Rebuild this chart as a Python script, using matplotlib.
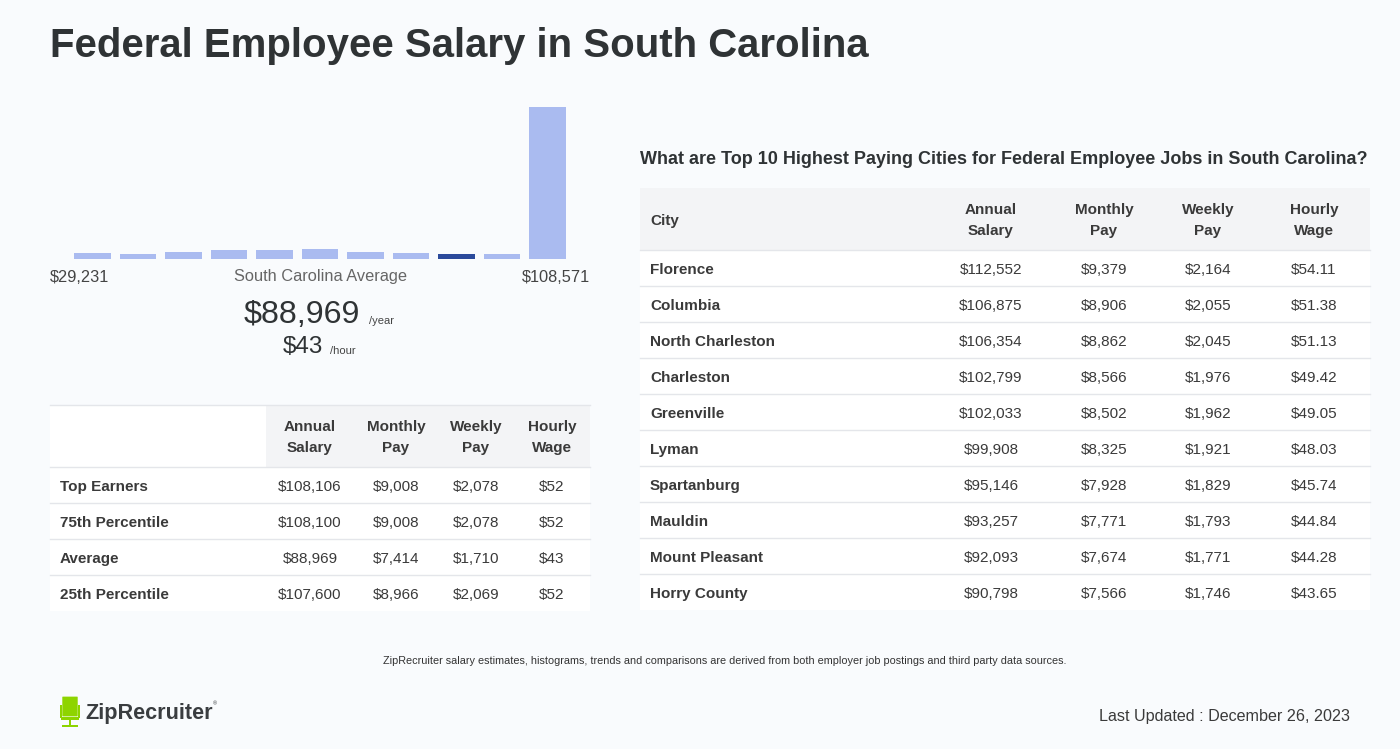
import matplotlib
matplotlib.use("Agg")
import matplotlib.pyplot as plt
from matplotlib.patches import Rectangle, FancyBboxPatch

plt.rcParams['font.family'] = ['Liberation Sans', 'DejaVu Sans']

W, H = 1400, 749

# histogram data (relative bar heights)
bin_heights = [17, 14, 20, 26, 26, 29, 20, 17, 14, 14, 455]
highlight_bin = 8
range_low = "$29,231"
range_high = "$108,571"
avg_year = "$88,969"
avg_hour = "$43"

# percentile table
pct_labels = ["Top Earners", "75th Percentile", "Average", "25th Percentile"]
pct_annual = ["$108,106", "$108,100", "$88,969", "$107,600"]
pct_monthly = ["$9,008", "$9,008", "$7,414", "$8,966"]
pct_weekly = ["$2,078", "$2,078", "$1,710", "$2,069"]
pct_hourly = ["$52", "$52", "$43", "$52"]

# city table
cities = ["Florence", "Columbia", "North Charleston", "Charleston", "Greenville",
          "Lyman", "Spartanburg", "Mauldin", "Mount Pleasant", "Horry County"]
city_annual = ["$112,552", "$106,875", "$106,354", "$102,799", "$102,033",
               "$99,908", "$95,146", "$93,257", "$92,093", "$90,798"]
city_monthly = ["$9,379", "$8,906", "$8,862", "$8,566", "$8,502",
                "$8,325", "$7,928", "$7,771", "$7,674", "$7,566"]
city_weekly = ["$2,164", "$2,055", "$2,045", "$1,976", "$1,962",
               "$1,921", "$1,829", "$1,793", "$1,771", "$1,746"]
city_hourly = ["$54.11", "$51.38", "$51.13", "$49.42", "$49.05",
               "$48.03", "$45.74", "$44.84", "$44.28", "$43.65"]

BG = "#f9fbfd"
HEAD_BG = "#f3f4f6"
DARK = "#2f3335"
TXT = "#3a3a3a"
LINE = "#e4e6ea"

fig = plt.figure(figsize=(14, 7.49), dpi=100)
fig.patch.set_facecolor(BG)


def fx(x):
    return x / W


def fy(y):
    return 1 - y / H


def txt(x, y, s, **kw):
    fig.text(fx(x), fy(y), s, **kw)


def rect(x0, y0, x1, y1, color):
    fig.patches.append(Rectangle((fx(x0), fy(y1)), fx(x1) - fx(x0), fy(y0) - fy(y1),
                                 transform=fig.transFigure, facecolor=color,
                                 edgecolor="none", zorder=0))


def hline(x0, x1, y):
    fig.add_artist(plt.Line2D([fx(x0), fx(x1)], [fy(y), fy(y)], color=LINE, lw=1))


# title
txt(50, 46, "Federal Employee Salary in South Carolina", fontsize=28.9, fontweight="bold",
    color=DARK, va="center", ha="left")

# histogram
ax = fig.add_axes([fx(69.75), fy(259), fx(570.25) - fx(69.75), fy(107) - fy(259)])
colors = ["#2b4a9b" if i == highlight_bin else "#aabbf0" for i in range(len(bin_heights))]
ax.bar(range(len(bin_heights)), bin_heights, width=0.81, color=colors)
ax.set_xlim(-0.5, len(bin_heights) - 0.5)
ax.set_ylim(0, max(bin_heights))
ax.axis("off")

txt(50, 277, range_low, fontsize=11.8, color="#444444", va="center", ha="left")
txt(590, 277, range_high, fontsize=11.8, color="#444444", va="center", ha="right")
txt(320, 277, "South Carolina Average", fontsize=11.8, color="#666666", va="center", ha="center")
txt(360, 315, avg_year, fontsize=23.2, color=DARK, va="center", ha="right")
txt(369, 321, "/year", fontsize=8, color="#444444", va="center", ha="left")
txt(323, 347, avg_hour, fontsize=17.5, color=DARK, va="center", ha="right")
txt(330, 351, "/hour", fontsize=8, color="#444444", va="center", ha="left")

# left table
rect(50, 405, 590, 611, "white")
rect(266, 405, 590, 467, HEAD_BG)
hline(50, 590, 405)
left_cols = [310, 396, 476, 552]
heads = [("Annual", "Salary"), ("Monthly", "Pay"), ("Weekly", "Pay"), ("Hourly", "Wage")]
for cx, (a, b) in zip(left_cols, heads):
    txt(cx, 427, a, fontsize=11, fontweight="bold", color=TXT, ha="center", va="center")
    txt(cx, 448, b, fontsize=11, fontweight="bold", color=TXT, ha="center", va="center")
hline(50, 590, 467)
for i, lab in enumerate(pct_labels):
    yc = 485 + 36 * i
    txt(60, yc + 2, lab, fontsize=11, fontweight="bold", color=TXT, ha="left", va="center")
    for cx, col in zip(left_cols, [pct_annual, pct_monthly, pct_weekly, pct_hourly]):
        txt(cx, yc + 2, col[i], fontsize=11, color=TXT, ha="center", va="center")
    if i < len(pct_labels) - 1:
        hline(50, 590, yc + 18)

# right table
txt(640, 159, "What are Top 10 Highest Paying Cities for Federal Employee Jobs in South Carolina?",
    fontsize=12.95, fontweight="bold", color=DARK, ha="left", va="center")
rect(640, 188, 1370, 610, "white")
rect(640, 188, 1370, 250, HEAD_BG)
right_cols = [991, 1104, 1208, 1314]
txt(650, 221, "City", fontsize=11, fontweight="bold", color=TXT, ha="left", va="center")
for cx, (a, b) in zip(right_cols, heads):
    txt(cx, 210, a, fontsize=11, fontweight="bold", color=TXT, ha="center", va="center")
    txt(cx, 231, b, fontsize=11, fontweight="bold", color=TXT, ha="center", va="center")
hline(640, 1370, 250)
for i, city in enumerate(cities):
    yc = 268 + 36 * i
    txt(650, yc + 2, city, fontsize=11, fontweight="bold", color=TXT, ha="left", va="center")
    for cx, col in zip(right_cols, [city_annual, city_monthly, city_weekly, city_hourly]):
        txt(cx, yc + 2, col[i], fontsize=11, color=TXT, ha="center", va="center")
    if i < len(cities) - 1:
        hline(640, 1370, yc + 18)

# footnote
txt(725, 661, "ZipRecruiter salary estimates, histograms, trends and comparisons are derived from "
    "both employer job postings and third party data sources.",
    fontsize=7.85, color="#333333", ha="center", va="center")

# logo: simple chair icon + wordmark
green = "#8ed400"
fig.patches.append(FancyBboxPatch((fx(63), fy(716)), fx(77) - fx(63), fy(697) - fy(716),
                                  boxstyle="round,pad=0.0005", transform=fig.transFigure,
                                  facecolor=green, edgecolor="none"))
rect(60, 705, 62, 718, green)
rect(78, 705, 80, 718, green)
rect(61, 717, 79, 720, green)
rect(69, 720, 71, 727, green)
rect(62, 725, 78, 727, green)
txt(85, 713, "ZipRecruiter", fontsize=15.6, fontweight="bold", color="#3a3d40",
    ha="left", va="center")
txt(213, 704, "®", fontsize=4, color="#3a3d40", ha="left", va="center")

txt(1350, 716, "Last Updated : December 26, 2023", fontsize=11.6, color=TXT,
    ha="right", va="center")

fig.savefig("out.png", dpi=100, facecolor=BG)
